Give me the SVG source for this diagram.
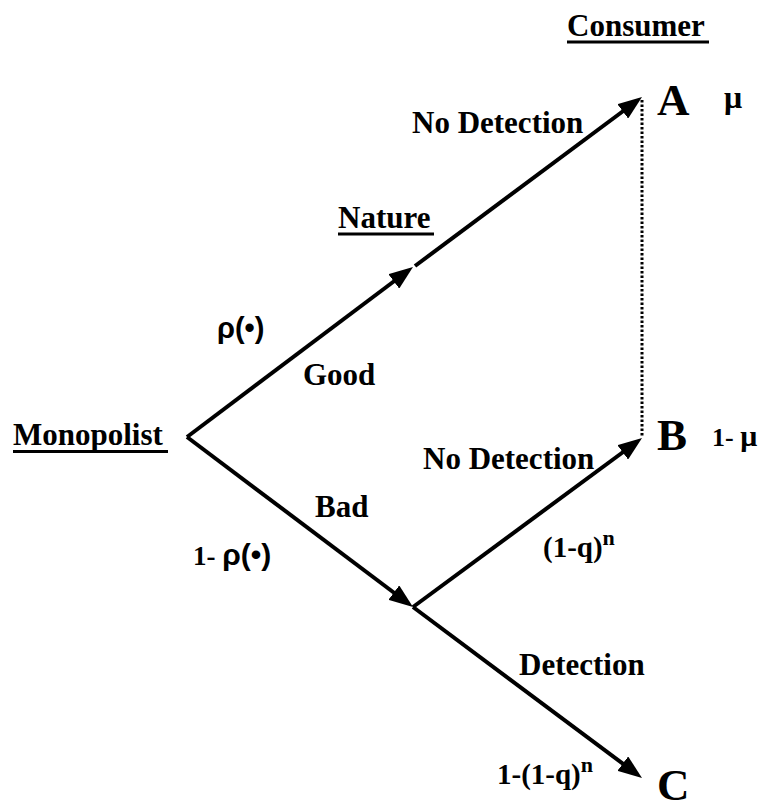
<svg xmlns="http://www.w3.org/2000/svg" width="769" height="808" viewBox="0 0 769 808">
<style>
.t{font-family:"Liberation Serif","Times New Roman",serif;font-weight:bold;fill:#000}
.lab{font-size:31px}
.big{font-size:45px}
.s{font-family:"Liberation Sans",Arial,sans-serif;font-weight:bold;fill:#000}
.ln{stroke:#000;stroke-width:4;fill:none}
.ul{stroke:#000;stroke-width:3}
</style>
<defs>
<marker id="ah" markerUnits="userSpaceOnUse" markerWidth="24" markerHeight="18" refX="14" refY="9" orient="auto-start-reverse">
<path d="M0,0 L24,9 L0,18 z" fill="#000"/>
</marker>
</defs>
<rect width="769" height="808" fill="#fff"/>
<g id="connectors">
<line class="ln" x1="187" y1="437" x2="405" y2="273" marker-end="url(#ah)"/>
<line class="ln" x1="415" y1="266" x2="634" y2="103" marker-end="url(#ah)"/>
<line class="ln" x1="187" y1="437" x2="405" y2="601" marker-end="url(#ah)"/>
<line class="ln" x1="413" y1="607" x2="634" y2="444" marker-end="url(#ah)"/>
<line class="ln" x1="413" y1="607" x2="634" y2="772" marker-end="url(#ah)"/>
<line x1="642" y1="100" x2="642" y2="437" stroke="#000" stroke-width="3" stroke-dasharray="2.5 2"/>
</g>
<g id="monopolist">
<text class="t lab" x="13" y="445">Monopolist</text>
<line class="ul" x1="13" y1="451.5" x2="168" y2="451.5"/>
</g>
<g id="nature">
<text class="t lab" x="338" y="228">Nature</text>
<line class="ul" x1="338" y1="234" x2="434" y2="234"/>
</g>
<g id="consumer">
<text class="t lab" x="567" y="36">Consumer</text>
<line class="ul" x1="567" y1="42" x2="709" y2="42"/>
</g>
<g id="nodeA">
<text class="t big" x="657" y="115">A</text>
<text class="t" font-size="32" x="724" y="108">μ</text>
</g>
<g id="nodeB">
<text class="t big" x="657" y="450">B</text>
<text x="712" y="446" class="t"><tspan font-size="26">1- </tspan><tspan font-size="30">μ</tspan></text>
</g>
<g id="nodeC">
<text class="t big" x="657" y="800">C</text>
</g>
<g id="labels">
<text class="t lab" x="412" y="133">No Detection</text>
<text class="t lab" x="303" y="385">Good</text>
<text class="s" font-size="29" x="217" y="338">ρ(•)</text>
<text class="t lab" x="315" y="517">Bad</text>
<text x="193" y="565"><tspan class="t" font-size="27">1- </tspan><tspan class="s" font-size="30">ρ(•)</tspan></text>
<text class="t lab" x="423" y="469">No Detection</text>
<text class="t" font-size="29" x="543" y="557">(1-q)<tspan font-size="22" dy="-12">n</tspan></text>
<text class="t" font-size="29" x="497" y="784">1-(1-q)<tspan font-size="22" dy="-12">n</tspan></text>
<text class="t lab" x="519" y="675">Detection</text>
</g>
</svg>
